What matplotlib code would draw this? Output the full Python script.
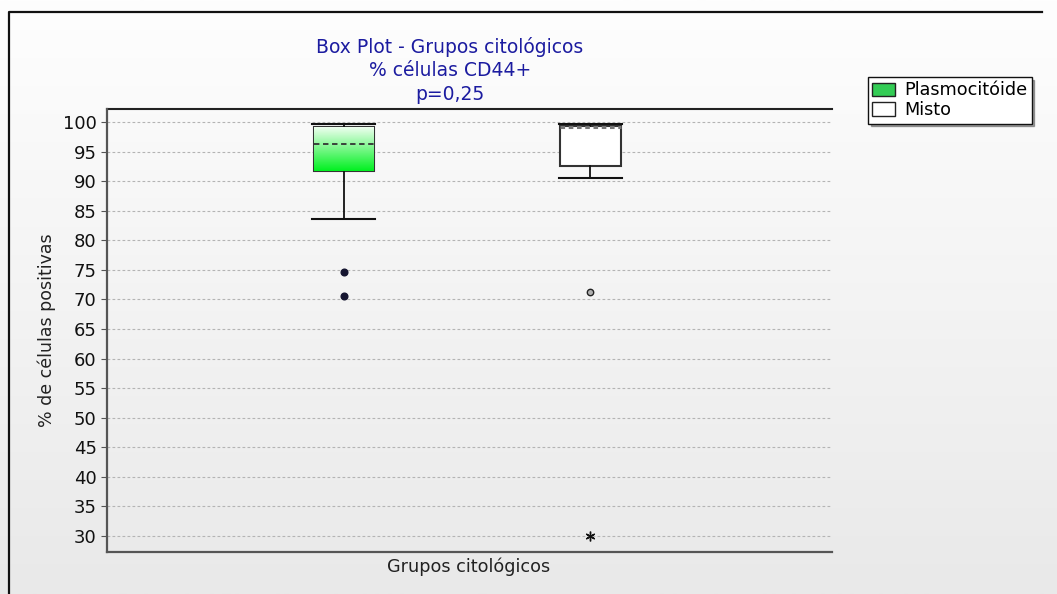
import numpy as np
import matplotlib
matplotlib.use("Agg")
import matplotlib.pyplot as plt
from matplotlib.patches import Patch
from matplotlib.colors import LinearSegmentedColormap

plt.rcParams['font.family'] = ['DejaVu Sans']

# Summary statistics per cytological group
groups = ["Plasmocitóide", "Misto"]
whisker_low = [83.6, 90.6]
q1 = [91.7, 92.6]
median = [96.3, 99.2]
q3 = [99.2, 99.3]
whisker_high = [99.6, 99.7]
outliers = [[74.6, 70.6], [71.3]]
extremes = [[], [30.0]]

y_ticks = list(range(30, 101, 5))
title_lines = ["Box Plot - Grupos citológicos", "% células CD44+", "p=0,25"]
x_label = "Grupos citológicos"
y_label = "% de células positivas"

W, H = 1057, 594
fig = plt.figure(figsize=(W / 100, H / 100), dpi=100)

# Figure background: soft vertical gradient with a frame on the left and top
bg = fig.add_axes([0, 0, 1, 1], zorder=-10)
grad = np.linspace(0.0, 1.0, 256).reshape(-1, 1)
bg_cmap = LinearSegmentedColormap.from_list("bg", ["#fefefe", "#e9e9e9"])
bg.imshow(grad, aspect="auto", cmap=bg_cmap, extent=[0, 1, 0, 1], origin="upper")
bg.plot([8.5 / W, 8.5 / W, 1042 / W], [-0.1, 1 - 12 / H, 1 - 12 / H],
        color="#111111", linewidth=1.6)
bg.set_xlim(0, 1)
bg.set_ylim(0, 1)
bg.axis("off")

ax = fig.add_axes([107 / W, 1 - 552 / H, (832 - 107) / W, (552 - 109) / H])
ax.set_facecolor("none")

positions = [1, 2]
stats = []
for i, name in enumerate(groups):
    stats.append(dict(label=name, whislo=whisker_low[i], q1=q1[i], med=median[i],
                      q3=q3[i], whishi=whisker_high[i], fliers=[]))

bp = ax.bxp(stats, positions=positions, widths=0.245, patch_artist=True,
            showfliers=False,
            boxprops=dict(edgecolor="#333333", linewidth=1.5, facecolor="white"),
            whiskerprops=dict(color="#111111", linewidth=1.3),
            capprops=dict(color="#111111", linewidth=1.5),
            medianprops=dict(color="#333333", linewidth=1.3, linestyle=(0, (3, 2))),
            capwidths=0.255)

# Green gradient inside the first box
green = LinearSegmentedColormap.from_list("g", ["#f4fff4", "#00f020"])
box0 = bp["boxes"][0]
half = 0.245 / 2
im = ax.imshow(np.linspace(0, 1, 256).reshape(-1, 1), cmap=green, aspect="auto",
               extent=[positions[0] - half, positions[0] + half, q1[0], q3[0]],
               origin="upper", zorder=box0.get_zorder() + 0.1)
im.set_clip_path(box0)
bp["medians"][0].set_zorder(box0.get_zorder() + 0.5)
bp["medians"][1].set_color("#777777")
bp["medians"][1].set_linestyle((0, (1.5, 1.2)))
bp["medians"][1].set_linewidth(2.2)

# Outliers and extremes
ax.plot([positions[0]] * len(outliers[0]), outliers[0], linestyle="none", marker="o",
        markersize=4.8, markerfacecolor="#151530", markeredgecolor="#151530")
ax.plot([positions[1]] * len(outliers[1]), outliers[1], linestyle="none", marker="o",
        markersize=4.6, markerfacecolor="#b0b0b0", markeredgecolor="#222222",
        markeredgewidth=1.0)
ax.plot([positions[1]] * len(extremes[1]), extremes[1], linestyle="none", marker=(6, 2, 0),
        markersize=7, color="#111111", markeredgewidth=1.0)

ax.set_xlim(0.04, 2.98)
ax.set_ylim(27.3, 102.2)
ax.set_yticks(y_ticks)
ax.set_xticks([])
ax.tick_params(axis="y", labelsize=13, length=4, color="#555555", labelcolor="#111111")
ax.yaxis.grid(True, linestyle=(0, (2.5, 2)), color="#b4b4b4", linewidth=0.8)
ax.set_axisbelow(True)
for side in ["left", "bottom"]:
    ax.spines[side].set_color("#555555")
    ax.spines[side].set_linewidth(1.6)
for side in ["top", "right"]:
    ax.spines[side].set_visible(False)
ax.plot([0, 1], [1, 1], transform=ax.transAxes, color="#222222", linewidth=1.5, clip_on=False)

ax.set_ylabel(y_label, fontsize=12.5, color="#222222", labelpad=5)
fig.text(469 / W, 1 - 567 / H, x_label, ha="center", va="center", fontsize=12.7,
         color="#222222")

for txt, yp in zip(title_lines, [47, 70, 94]):
    fig.text(450 / W, 1 - yp / H, txt, ha="center", va="center", fontsize=13.5,
             color="#1c1ca0")

handles = [Patch(facecolor="#33cc55", edgecolor="#222222", label=groups[0]),
           Patch(facecolor="white", edgecolor="#222222", label=groups[1])]
leg = fig.legend(handles=handles, loc="upper left", bbox_to_anchor=(868 / W, 1 - 77 / H),
                 fontsize=12.7, frameon=True, fancybox=False, shadow=True, borderpad=0.25,
                 labelspacing=0.1, handlelength=1.3, handleheight=0.8, handletextpad=0.5,
                 borderaxespad=0)
leg.get_frame().set_edgecolor("#111111")
leg.get_frame().set_linewidth(1.0)

fig.savefig("out.png", dpi=100)
